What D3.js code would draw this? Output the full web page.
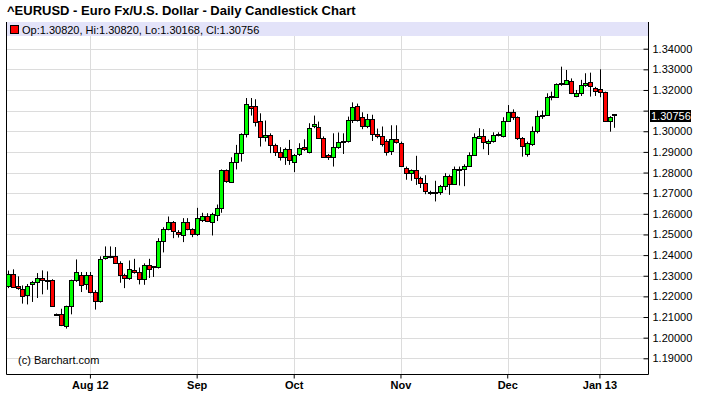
<!DOCTYPE html>
<html>
<head>
<meta charset="utf-8">
<script src="https://cdn.jsdelivr.net/npm/d3@7"></script>
<style>
  body { margin: 0; background: #fff; }
  svg { display: block; font-family: "Liberation Sans", Arial, Helvetica, sans-serif; }
</style>
</head>
<body>
<div id="chart"></div>
<script>
// daily EUR/USD candles, Jul 2012 - Jan 2013
const opens = [
  1.2250, 1.2310, 1.2248, 1.2237, 1.2205, 1.2261, 1.2271, 1.2290, 1.2281, 1.2281,
  1.2115, 1.2113, 1.2060, 1.2155, 1.2281, 1.2305, 1.2256, 1.2302, 1.2221, 1.2179,
  1.2387, 1.2395, 1.2395, 1.2363, 1.2302, 1.2289, 1.2329, 1.2318, 1.2286, 1.2350,
  1.2346, 1.2342, 1.2469, 1.2527, 1.2561, 1.2510, 1.2500, 1.2561, 1.2527, 1.2503,
  1.2570, 1.2589, 1.2563, 1.2595, 1.2629, 1.2810, 1.2755, 1.2850, 1.2895, 1.2985,
  1.3124, 1.3124, 1.3048, 1.2971, 1.2981, 1.2934, 1.2900, 1.2874, 1.2913, 1.2851,
  1.2889, 1.2923, 1.2901, 1.3023, 1.3023, 1.2969, 1.2884, 1.2877, 1.2926, 1.2952,
  1.2950, 1.3053, 1.3123, 1.3068, 1.3023, 1.3060, 1.2985, 1.2977, 1.2953, 1.2902,
  1.2961, 1.2942, 1.2821, 1.2800, 1.2813, 1.2773, 1.2748, 1.2708, 1.2704, 1.2705,
  1.2735, 1.2784, 1.2744, 1.2816, 1.2818, 1.2832, 1.2884, 1.2971, 1.2976, 1.2945,
  1.2950, 1.2980, 1.2977, 1.3052, 1.3092, 1.3068, 1.2969, 1.2887, 1.2942, 1.3003,
  1.3074, 1.3079, 1.3165, 1.3168, 1.3226, 1.3229, 1.3245, 1.3171, 1.3184, 1.3223,
  1.3237, 1.3208, 1.3203, 1.3189, 1.3050, 1.30820
];
const highs = [
  1.2325, 1.2331, 1.2297, 1.2253, 1.2260, 1.2275, 1.2313, 1.2326, 1.2321, 1.2283,
  1.2117, 1.2140, 1.2155, 1.2281, 1.2379, 1.2318, 1.2318, 1.2318, 1.2230, 1.2394,
  1.2442, 1.2442, 1.2439, 1.2370, 1.2310, 1.2374, 1.2382, 1.2340, 1.2360, 1.2382,
  1.2347, 1.2482, 1.2535, 1.2587, 1.2565, 1.2521, 1.2579, 1.2579, 1.2530, 1.2629,
  1.2605, 1.2603, 1.2605, 1.2645, 1.2815, 1.2815, 1.2874, 1.2934, 1.2990, 1.3161,
  1.3161, 1.3155, 1.3087, 1.3052, 1.2990, 1.2940, 1.2923, 1.2920, 1.2958, 1.2890,
  1.2942, 1.2961, 1.3039, 1.3076, 1.3047, 1.2975, 1.2890, 1.2990, 1.2994, 1.2990,
  1.3071, 1.3140, 1.3134, 1.3092, 1.3084, 1.3080, 1.3013, 1.3023, 1.2961, 1.3029,
  1.3029, 1.2950, 1.2829, 1.2815, 1.2881, 1.2780, 1.2787, 1.2712, 1.2760, 1.2740,
  1.2797, 1.2790, 1.2829, 1.2829, 1.2840, 1.2898, 1.2990, 1.3015, 1.3010, 1.2960,
  1.2995, 1.2995, 1.3068, 1.3127, 1.3106, 1.3072, 1.2972, 1.2950, 1.3023, 1.3100,
  1.3100, 1.3184, 1.3192, 1.3232, 1.3313, 1.3297, 1.3256, 1.3200, 1.3249, 1.3281,
  1.3284, 1.3215, 1.3300, 1.3192, 1.3073, 1.30820
];
const lows = [
  1.2240, 1.2244, 1.2232, 1.2165, 1.2161, 1.2173, 1.2192, 1.2210, 1.2232, 1.2150,
  1.2108, 1.2056, 1.2044, 1.2113, 1.2270, 1.2221, 1.2232, 1.2215, 1.2136, 1.2170,
  1.2378, 1.2385, 1.2360, 1.2266, 1.2240, 1.2280, 1.2310, 1.2258, 1.2256, 1.2289,
  1.2294, 1.2335, 1.2413, 1.2520, 1.2482, 1.2485, 1.2463, 1.2520, 1.2487, 1.2493,
  1.2560, 1.2560, 1.2495, 1.2565, 1.2605, 1.2750, 1.2750, 1.2815, 1.2853, 1.2970,
  1.3076, 1.3023, 1.2926, 1.2950, 1.2894, 1.2880, 1.2858, 1.2837, 1.2837, 1.2802,
  1.2880, 1.2905, 1.2893, 1.3015, 1.2965, 1.2874, 1.2861, 1.2829, 1.2915, 1.2890,
  1.2945, 1.3040, 1.3047, 1.3010, 1.3015, 1.2953, 1.2966, 1.2926, 1.2882, 1.2885,
  1.2940, 1.2829, 1.2765, 1.2760, 1.2740, 1.2725, 1.2695, 1.2692, 1.2660, 1.2692,
  1.2715, 1.2692, 1.2744, 1.2737, 1.2734, 1.2829, 1.2882, 1.2965, 1.2913, 1.2885,
  1.2945, 1.2975, 1.2970, 1.3045, 1.3055, 1.2958, 1.2877, 1.2877, 1.2929, 1.2990,
  1.3060, 1.3074, 1.3150, 1.3165, 1.3220, 1.3225, 1.3180, 1.3165, 1.3171, 1.3215,
  1.3168, 1.3171, 1.3165, 1.3047, 1.2998, 1.30168
];
const closes = [
  1.2310, 1.2248, 1.2239, 1.2205, 1.2248, 1.2271, 1.2290, 1.2281, 1.2277, 1.2155,
  1.2113, 1.2060, 1.2155, 1.2281, 1.2318, 1.2256, 1.2302, 1.2221, 1.2179, 1.2382,
  1.2395, 1.2392, 1.2363, 1.2305, 1.2286, 1.2331, 1.2321, 1.2286, 1.2353, 1.2329,
  1.2341, 1.2469, 1.2527, 1.2561, 1.2518, 1.2500, 1.2561, 1.2527, 1.2503, 1.2581,
  1.2590, 1.2563, 1.2600, 1.2629, 1.2813, 1.2755, 1.2850, 1.2895, 1.2985, 1.3132,
  1.3115, 1.3048, 1.2971, 1.2981, 1.2934, 1.2900, 1.2874, 1.2913, 1.2861, 1.2885,
  1.2918, 1.2913, 1.3015, 1.3034, 1.2969, 1.2877, 1.2874, 1.2926, 1.2950, 1.2955,
  1.3053, 1.3116, 1.3055, 1.3026, 1.3058, 1.2985, 1.2977, 1.2937, 1.2902, 1.2961,
  1.2945, 1.2829, 1.2797, 1.2813, 1.2773, 1.2748, 1.2708, 1.2703, 1.2708, 1.2735,
  1.2784, 1.2744, 1.2818, 1.2819, 1.2832, 1.2884, 1.2971, 1.2979, 1.2945, 1.2955,
  1.2981, 1.2986, 1.3052, 1.3095, 1.3068, 1.2966, 1.2929, 1.2942, 1.3003, 1.3074,
  1.3080, 1.3165, 1.3171, 1.3229, 1.3232, 1.3248, 1.3187, 1.3184, 1.3223, 1.3235,
  1.3216, 1.3192, 1.3189, 1.3050, 1.3068, 1.30756
];

// first trading day of each month (candle index) and its label
const monthTicks = [17, 39, 59, 81, 103, 122];
const monthLabels = ['Aug 12', 'Sep', 'Oct', 'Nov', 'Dec', 'Jan 13'];
const priceTicks = [1.19, 1.20, 1.21, 1.22, 1.23, 1.24, 1.25, 1.26, 1.27,
                    1.28, 1.29, 1.30, 1.31, 1.32, 1.33, 1.34];

const title = '^EURUSD - Euro Fx/U.S. Dollar - Daily Candlestick Chart';

const width = 703;
const height = 399;
const box = { left: 6, right: 648, top: 22, bottom: 374 };

const candles = opens.map((o, i) => ({
  i, open: o, high: highs[i], low: lows[i], close: closes[i]
}));
const last = candles[candles.length - 1];

const svg = d3.select('#chart')
  .append('svg')
  .attr('width', width)
  .attr('height', height);

const xScale = d3.scaleBand()
  .domain(d3.range(candles.length))
  .range([5.3, 617.1])
  .padding(0.08);
const yScale = d3.scaleLinear().domain([1.19, 1.34]).range([358.3, 48.7]);
const cx = (i) => Math.round(xScale(i) + xScale.bandwidth() / 2) + 0.5;

svg.append('text')
  .attr('x', 7)
  .attr('y', 15)
  .attr('font-size', 13)
  .attr('font-weight', 'bold')
  .text(title);

// legend band
svg.append('rect')
  .attr('x', box.left).attr('y', box.top)
  .attr('width', box.right - box.left).attr('height', 14)
  .attr('fill', '#e3e3f9');

// grid
const grid = svg.append('g').attr('stroke', '#dcdcdc').attr('stroke-width', 1);
grid.selectAll('line.h')
  .data(priceTicks)
  .join('line')
  .attr('class', 'h')
  .attr('x1', box.left).attr('x2', box.right)
  .attr('y1', (d) => Math.round(yScale(d)) + 0.5)
  .attr('y2', (d) => Math.round(yScale(d)) + 0.5);
grid.selectAll('line.v')
  .data(monthTicks)
  .join('line')
  .attr('class', 'v')
  .attr('x1', (d) => cx(d)).attr('x2', (d) => cx(d))
  .attr('y1', box.top + 14).attr('y2', box.bottom);

svg.append('text')
  .attr('x', 18).attr('y', 364)
  .attr('font-size', 11)
  .text('(c) Barchart.com');

// candles
const g = svg.append('g');
g.selectAll('line.wick')
  .data(candles)
  .join('line')
  .attr('class', 'wick')
  .attr('x1', (d) => cx(d.i)).attr('x2', (d) => cx(d.i))
  .attr('y1', (d) => yScale(d.high))
  .attr('y2', (d) => yScale(d.low))
  .attr('stroke', '#000');

g.selectAll('rect')
  .data(candles)
  .join('rect')
  .attr('x', (d) => cx(d.i) - 2)
  .attr('width', 4)
  .attr('y', (d) => Math.round(yScale(Math.max(d.open, d.close))) + 0.5)
  .attr('height', (d) => Math.max(1, Math.round(Math.abs(yScale(d.open) - yScale(d.close)))))
  .attr('fill', (d) => d.close >= d.open ? '#00ff00' : '#ff0000')
  .attr('stroke', '#000')
  .attr('stroke-width', 1);

// box
svg.append('path')
  .attr('d', `M${box.left + 0.5},${box.top}V${box.bottom + 0.5}H${box.right + 0.5}V${box.top}`)
  .attr('fill', 'none')
  .attr('stroke', '#000');

// legend
svg.append('rect')
  .attr('x', 10.5).attr('y', 25.5)
  .attr('width', 8).attr('height', 8)
  .attr('fill', '#ff0000').attr('stroke', '#000');
svg.append('text')
  .attr('x', 22).attr('y', 33.5)
  .attr('font-size', 11)
  .text(`Op:${last.open.toFixed(5)}, Hi:${last.high.toFixed(5)}, Lo:${last.low.toFixed(5)}, Cl:${last.close.toFixed(5)}`);

// price axis; a label that would sit under the last-price box is left out
const py = yScale(last.close);
const fmt = d3.format('.5f');
const yAxis = svg.append('g')
  .attr('transform', `translate(${box.right + 0.5},0)`)
  .call(d3.axisRight(yScale).tickValues(priceTicks)
    .tickFormat((d) => Math.abs(yScale(d) - py) < 12 ? '' : fmt(d))
    .tickSizeInner(-5).tickSizeOuter(0).tickPadding(4));
yAxis.select('.domain').remove();
yAxis.selectAll('text').attr('font-size', 11).attr('font-family', null).attr('fill', '#000');

svg.append('rect')
  .attr('x', 650).attr('y', Math.round(py) - 6)
  .attr('width', 41).attr('height', 12)
  .attr('fill', '#000');
svg.append('text')
  .attr('x', 651).attr('y', Math.round(py) + 4)
  .attr('font-size', 11).attr('fill', '#fff')
  .text(fmt(last.close));

// time axis
const xAxis = svg.append('g')
  .attr('transform', `translate(0,${box.bottom + 0.5})`)
  .call(d3.axisBottom(xScale).tickValues(monthTicks)
    .tickFormat((d, k) => monthLabels[k]).tickSizeInner(4).tickSizeOuter(0).tickPadding(3));
xAxis.select('.domain').remove();
xAxis.selectAll('text').attr('font-size', 11).attr('font-weight', 'bold').attr('font-family', null).attr('fill', '#000');
</script>
</body>
</html>
